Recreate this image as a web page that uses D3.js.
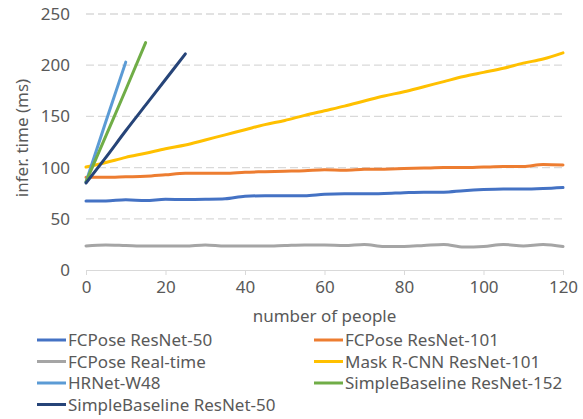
<!DOCTYPE html>
<html>
<head>
<meta charset="utf-8">
<script src="https://cdn.jsdelivr.net/npm/d3@7"></script>
<style>
  body { margin: 0; background: #fff; }
  text { font-family: "Noto Sans", "DejaVu Sans", sans-serif; fill: #595959; }
</style>
</head>
<body>
<div id="chart"></div>
<script>
// x values (number of people)
var xLong  = [0, 5, 10, 15, 20, 25, 30, 35, 40, 45, 50, 55, 60, 65, 70, 75, 80, 85, 90, 95, 100, 105, 110, 115, 120];
var xHR    = [0, 5, 10];
var xSB152 = [0, 5, 10, 15];
var xSB50  = [0, 5, 10, 15, 20, 25];

// series values (ms)
var fcR50  = [67.5, 67.5, 68.5, 67.8, 69, 68.8, 69, 69.5, 72, 72.5, 72.5, 72.6, 74, 74.5, 74.5, 74.8, 75.5, 76, 76, 77.5, 78.5, 79, 79, 79.5, 80.5];
var fcR101 = [90.5, 90.5, 91, 91.5, 93, 94.5, 94.5, 94.5, 95.5, 96, 96.5, 97, 98, 97.5, 98.3, 98.5, 99, 99.5, 100, 100, 100.5, 101, 101, 103, 102.5];
var fcRT   = [23.5, 24.5, 24, 23.5, 23.5, 23.5, 24.5, 23.5, 23.5, 23.5, 24, 24.5, 24.5, 24, 25, 23, 23, 24, 25, 22.5, 23, 25, 23.5, 25, 23];
var maskR  = [100.5, 105, 110, 114, 118.5, 122, 127, 132, 137, 142, 146, 151, 155.5, 160, 165, 170, 174, 179, 184, 189, 193, 197, 202, 206, 212];
var hrnet  = [86, 145, 203];
var sb152  = [86, 131, 176, 222];
var sb50   = [85, 110, 136, 161, 186, 211];

var xTicks = [0, 20, 40, 60, 80, 100, 120];
var yTicks = [0, 50, 100, 150, 200, 250];

var series = [
  { name: "FCPose ResNet-50",          x: xLong,  y: fcR50,  color: "#4472C4" },
  { name: "FCPose ResNet-101",         x: xLong,  y: fcR101, color: "#ED7D31" },
  { name: "FCPose Real-time",          x: xLong,  y: fcRT,   color: "#A5A5A5" },
  { name: "Mask R-CNN ResNet-101",     x: xLong,  y: maskR,  color: "#FFC000" },
  { name: "HRNet-W48",                 x: xHR,    y: hrnet,  color: "#5B9BD5" },
  { name: "SimpleBaseline ResNet-152", x: xSB152, y: sb152,  color: "#70AD47" },
  { name: "SimpleBaseline ResNet-50",  x: xSB50,  y: sb50,   color: "#264478" }
];

var margin = { top: 14, right: 20, bottom: 149, left: 86 };
var W = 583, H = 419;
var width = W - margin.left - margin.right;
var height = H - margin.top - margin.bottom;

var svg = d3.select("#chart").append("svg")
    .attr("width", W)
    .attr("height", H);

var g = svg.append("g")
    .attr("transform", "translate(" + margin.left + "," + margin.top + ")");

var xScale = d3.scaleLinear().domain([0, 120]).range([0, width]);
var yScale = d3.scaleLinear().domain([0, 250]).range([height, 0]);

// gridlines
g.selectAll(".grid")
    .data(yTicks.filter(function(d) { return d > 0; }))
  .enter().append("line")
    .attr("class", "grid")
    .attr("x1", 0)
    .attr("x2", width)
    .attr("y1", function(d) { return yScale(d); })
    .attr("y2", function(d) { return yScale(d); })
    .attr("stroke", "#D9D9D9")
    .attr("stroke-width", 1.3)
    .attr("stroke-dasharray", "8,4");

// y axis (labels only)
var yAxis = d3.axisLeft(yScale).tickValues(yTicks).tickSize(0).tickPadding(16);
var yG = g.append("g").call(yAxis);
yG.select(".domain").remove();
yG.selectAll("text").style("font-size", "17px").attr("fill", "#595959");

// x axis
var xAxis = d3.axisBottom(xScale).tickValues(xTicks).tickSize(5).tickSizeOuter(0).tickPadding(6);
var xG = g.append("g")
    .attr("transform", "translate(0," + height + ")")
    .call(xAxis);
xG.select(".domain").attr("stroke", "#D9D9D9");
xG.selectAll(".tick line").attr("stroke", "#D9D9D9");
xG.selectAll("text").style("font-size", "17px").attr("fill", "#595959");

// lines
var line = d3.line()
    .x(function(d) { return xScale(d[0]); })
    .y(function(d) { return yScale(d[1]); })
    .curve(d3.curveMonotoneX);

series.forEach(function(s) {
    var pts = s.x.map(function(v, i) { return [v, s.y[i]]; });
    g.append("path")
        .datum(pts)
        .attr("fill", "none")
        .attr("stroke", s.color)
        .attr("stroke-width", 3)
        .attr("stroke-linecap", "round")
        .attr("stroke-linejoin", "round")
        .attr("d", line);
});

// axis titles
g.append("text")
    .attr("text-anchor", "middle")
    .attr("x", width / 2)
    .attr("y", height + 52)
    .style("font-size", "17px")
    .text("number of people");

svg.append("text")
    .attr("transform", "rotate(-90)")
    .attr("text-anchor", "middle")
    .attr("x", -138)
    .attr("y", 28)
    .style("font-size", "17px")
    .text("infer. time (ms)");

// legend
var legend = svg.append("g");
series.forEach(function(s, i) {
    var col = i % 2, row = Math.floor(i / 2);
    var lx = col === 0 ? 37 : 314;
    var ly = 340 + row * 21.5;
    legend.append("line")
        .attr("x1", lx).attr("x2", lx + 29)
        .attr("y1", ly).attr("y2", ly)
        .attr("stroke", s.color)
        .attr("stroke-width", 3);
    legend.append("text")
        .attr("x", lx + 31)
        .attr("y", ly + 6)
        .style("font-size", "17px")
        .text(s.name);
});
</script>
</body>
</html>
